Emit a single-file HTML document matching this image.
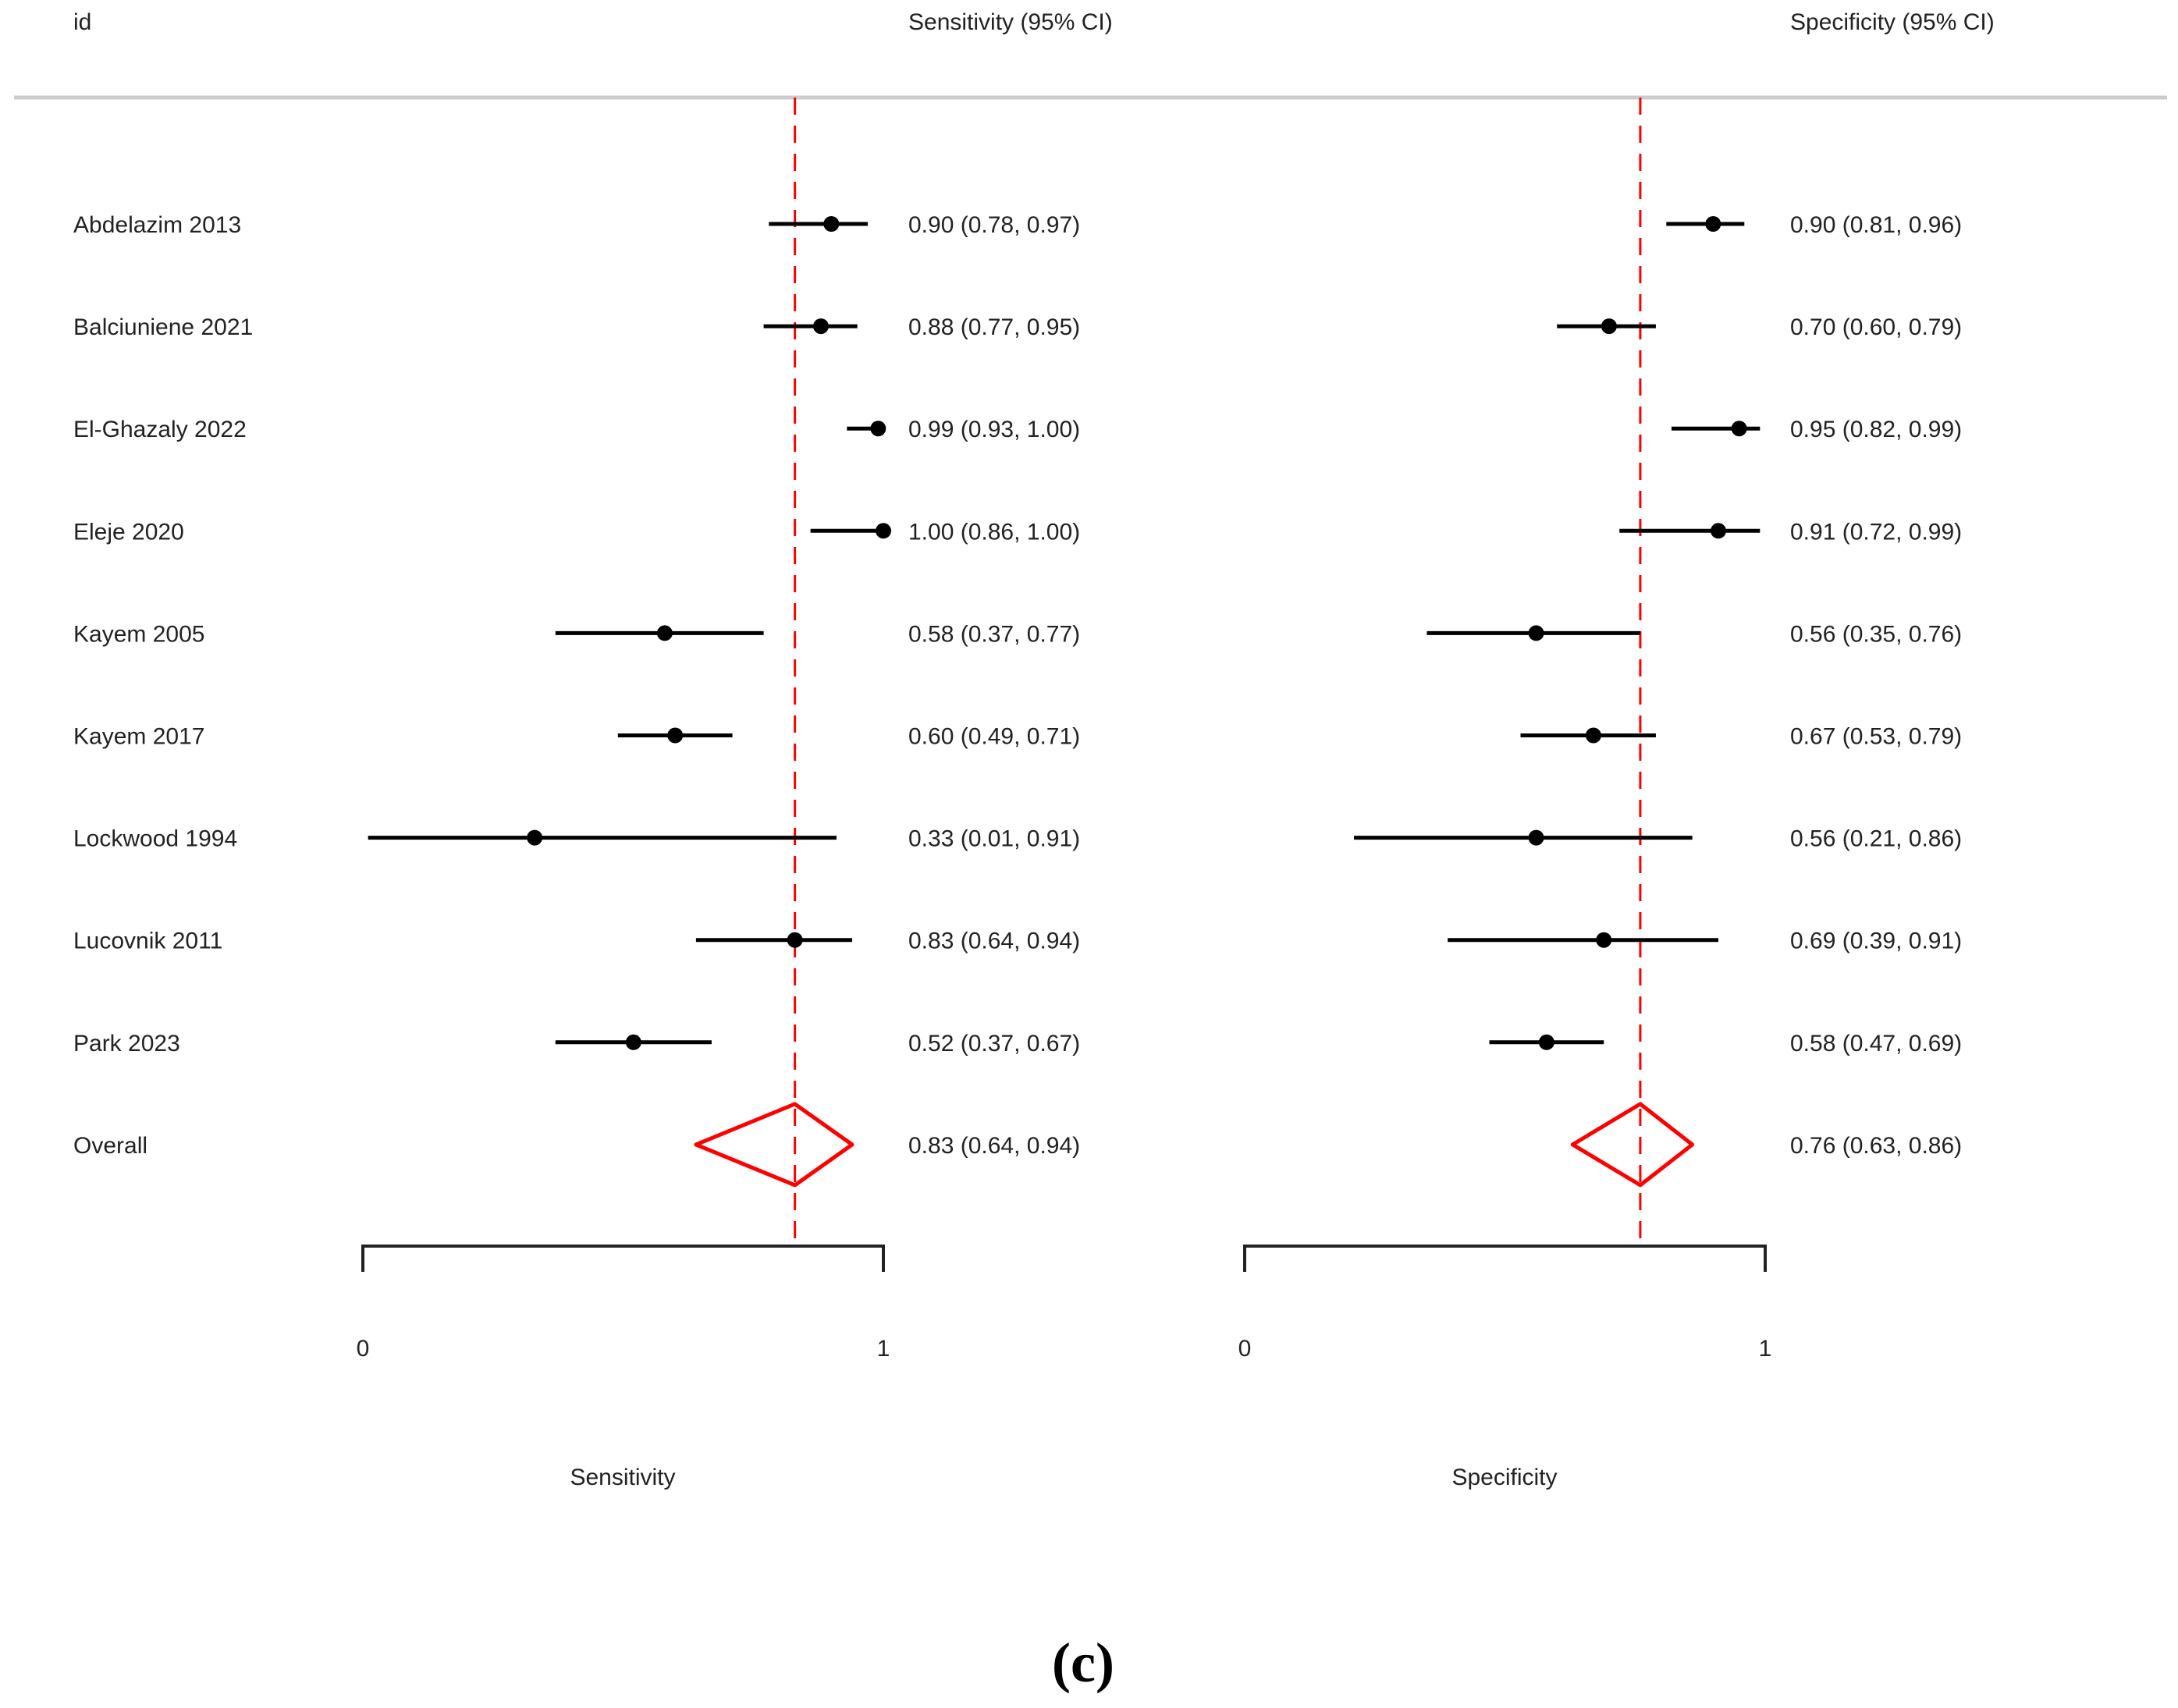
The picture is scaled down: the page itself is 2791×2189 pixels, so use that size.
<!DOCTYPE html>
<html><head><meta charset="utf-8"><style>
html,body{margin:0;padding:0;background:#fff;}
svg{display:block;}
text{font-family:"Liberation Sans",Arial,sans-serif;fill:#222;}
</style></head><body>
<svg id="chart" width="2791" height="2189" viewBox="0 0 2791 2189">
<g id="g"></g>
</svg>
<script>
const studies=["Abdelazim  2013","Balciuniene 2021","El-Ghazaly 2022","Eleje 2020","Kayem 2005","Kayem 2017","Lockwood 1994","Lucovnik 2011","Park 2023"];
const sensEst=[0.90,0.88,0.99,1.00,0.58,0.60,0.33,0.83,0.52];
const sensLo=[0.78,0.77,0.93,0.86,0.37,0.49,0.01,0.64,0.37];
const sensHi=[0.97,0.95,1.00,1.00,0.77,0.71,0.91,0.94,0.67];
const specEst=[0.90,0.70,0.95,0.91,0.56,0.67,0.56,0.69,0.58];
const specLo=[0.81,0.60,0.82,0.72,0.35,0.53,0.21,0.39,0.47];
const specHi=[0.96,0.79,0.99,0.99,0.76,0.79,0.86,0.91,0.69];
const sensOverall=[0.83,0.64,0.94];
const specOverall=[0.76,0.63,0.86];
const tickLabels=["0","1"];

const NS="http://www.w3.org/2000/svg";
const g=document.getElementById('g');
function el(t,a,txt){const e=document.createElementNS(NS,t);for(const k in a)e.setAttribute(k,a[k]);if(txt!==undefined)e.textContent=txt;g.appendChild(e);return e;}
const rowY=i=>287+i*131.1;
const xs=v=>465+v*667;
const xp=v=>1595+v*667;
const fmt=v=>v.toFixed(2);
const FS=30;

let e;
e=el('text',{x:94,y:38,'font-size':FS},'id');

e=el('text',{x:1164,y:38,'font-size':FS},'Sensitivity (95% CI)');

e=el('text',{x:2294,y:38,'font-size':FS},'Specificity (95% CI)');

e=el('line',{x1:18,y1:125,x2:2777,y2:125,stroke:'#ccc','stroke-width':5});


// reference dashed lines
[[xs,sensOverall[0],'sens'],[xp,specOverall[0],'spec']].forEach(([f,v,n])=>{
  const l=el('line',{x1:f(v),y1:125,x2:f(v),y2:1597,stroke:'#f00','stroke-width':3,'stroke-dasharray':'22,14'});
  
});

studies.forEach((s,i)=>{
  const y=rowY(i);
  let t=el('text',{x:94,y:y+11,'font-size':FS},s);
  
  [[xs,sensEst,sensLo,sensHi,1164,'sens'],[xp,specEst,specLo,specHi,2294,'spec']].forEach(([f,E,L,H,tx,n])=>{
    const l=el('line',{x1:f(L[i]),y1:y,x2:f(H[i]),y2:y,stroke:'#000','stroke-width':5});
    
    const c=el('circle',{cx:f(E[i]),cy:y,r:10,fill:'#000'});
    
    const tt=el('text',{x:tx,y:y+11,'font-size':FS},fmt(E[i])+' ('+fmt(L[i])+', '+fmt(H[i])+')');
    
  });
});

const oy=rowY(9);
e=el('text',{x:94,y:oy+11,'font-size':FS},'Overall');

[[xs,sensOverall,1164,'sens'],[xp,specOverall,2294,'spec']].forEach(([f,O,tx,n])=>{
  const p=el('polygon',{points:`${f(O[1])},${oy} ${f(O[0])},${oy-52} ${f(O[2])},${oy} ${f(O[0])},${oy+52}`,fill:'none',stroke:'#f00','stroke-width':5,'stroke-linejoin':'round'});
  
  const tt=el('text',{x:tx,y:oy+11,'font-size':FS},fmt(O[0])+' ('+fmt(O[1])+', '+fmt(O[2])+')');
  
});

[[xs,'sensitivity',798,'Sensitivity'],[xp,'specificity',1928,'Specificity']].forEach(([f,n,cx,title])=>{
  const a=el('path',{d:`M${f(0)},1630 V1597 H${f(1)} V1630`,fill:'none',stroke:'#222','stroke-width':4});
  
  [0,1].forEach(k=>{
    const t=el('text',{x:f(k),y:1738,'font-size':FS,'text-anchor':'middle'},tickLabels[k]);
    
  });
  const t=el('text',{x:cx,y:1903,'font-size':FS,'text-anchor':'middle'},title);
  
});

e=el('text',{x:1388,y:2155,'font-size':72,'font-weight':'bold','text-anchor':'middle',style:'font-family:"Liberation Serif",serif;fill:#000'},'(c)');

</script>
</body></html>
